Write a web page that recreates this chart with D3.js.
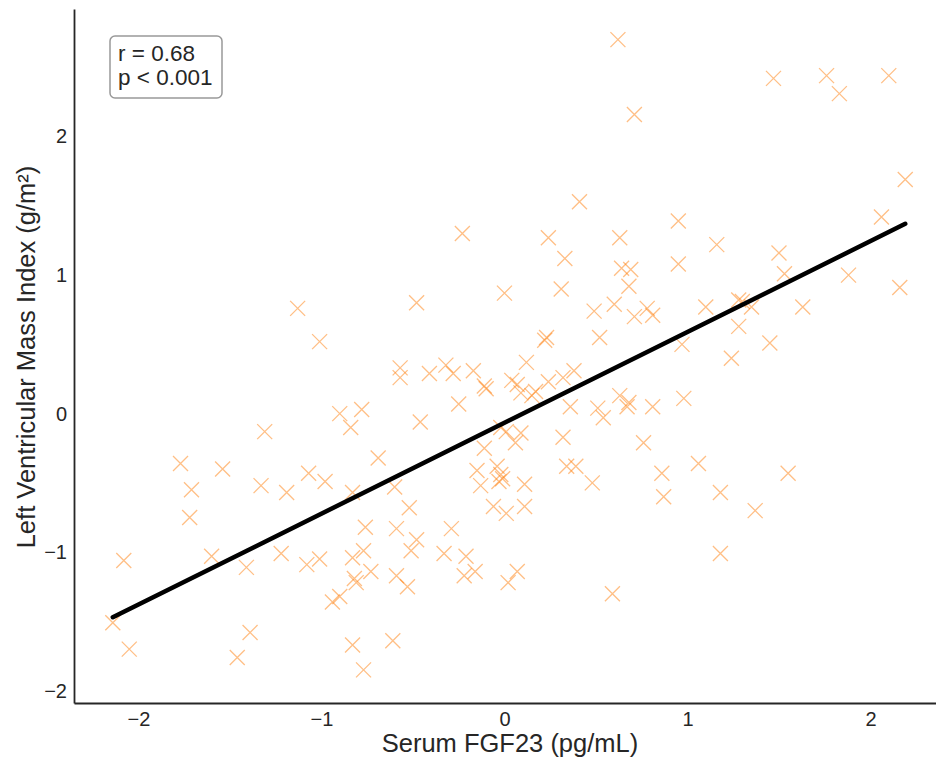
<!DOCTYPE HTML>
<html>
<head>
<meta charset="utf-8">
<script src="https://d3js.org/d3.v7.min.js"></script>
<style>
  body { margin: 0; background: white; }
  text { font-family: "Liberation Sans", Arial, sans-serif; }
</style>
</head>
<body>
<svg id="svgMain" width="936" height="764"></svg>

<script>
// serum FGF23 (x) vs LV mass index (y)
const fgf23 = [
  0.62, 0.71, 1.47, 1.76, 1.83, 2.10, 2.19, 0.41, 2.06, 0.95,
  -0.23, 0.24, 0.63, 1.16, 1.50, 0.33, 0.95, 0.64, 0.69, 1.53,
  1.88, 0.68, 0.31, 2.16, 0.00, -0.48, -1.13, 0.60, 0.49, 0.78,
  0.81, 0.71, 1.10, 1.28, 1.30, 1.35, 1.63, 1.28, -1.01, 0.23,
  0.22, 0.52, 0.97, 1.45, 1.24, 0.12, -0.57, -0.57, -0.41, -0.32,
  -0.28, -0.17, -0.11, -0.10, 0.04, 0.07, 0.09, 0.17, 0.15, 0.24,
  0.32, 0.38, -0.25, 0.36, 0.51, 0.54, 0.63, 0.68, 0.67, 0.81,
  0.98, -0.90, -0.78, -0.84, -1.31, -0.46, -0.69, -0.02, 0.01, 0.09,
  0.06, -0.11, 0.32, 0.76, -0.04, -0.02, -0.01, -0.03, -0.15, 0.34,
  0.39, 0.48, 0.86, 1.06, 1.55, 0.87, 1.18, 1.37, 1.18, 0.59,
  -1.77, -1.54, -1.07, -1.71, -1.72, -1.33, -1.19, -0.98, -0.83, -2.08,
  -1.60, -1.41, -1.22, -1.08, -1.01, -0.83, -0.77, -0.82, -0.81, -0.73,
  -0.94, -0.90, -2.14, -2.05, -1.39, -1.46, -0.83, -0.77, -0.76, -0.60,
  -0.52, -0.59, -0.48, -0.51, -0.59, -0.53, -0.29, -0.33, -0.21, -0.22,
  -0.16, 0.02, 0.07, -0.13, 0.11, -0.06, 0.01, 0.11, -0.61
];
const lvmi = [
  2.70, 2.16, 2.42, 2.44, 2.31, 2.44, 1.69, 1.53, 1.42, 1.39,
  1.30, 1.27, 1.27, 1.22, 1.16, 1.12, 1.08, 1.05, 1.04, 1.01,
  1.00, 0.92, 0.90, 0.91, 0.87, 0.80, 0.76, 0.79, 0.74, 0.76,
  0.71, 0.70, 0.77, 0.82, 0.81, 0.77, 0.77, 0.63, 0.52, 0.55,
  0.53, 0.55, 0.50, 0.51, 0.40, 0.37, 0.33, 0.26, 0.29, 0.35,
  0.29, 0.31, 0.20, 0.18, 0.24, 0.21, 0.15, 0.16, 0.13, 0.23,
  0.26, 0.31, 0.07, 0.05, 0.04, -0.03, 0.13, 0.08, 0.05, 0.05,
  0.11, 0.00, 0.03, -0.10, -0.13, -0.06, -0.32, -0.10, -0.13, -0.14,
  -0.21, -0.25, -0.17, -0.21, -0.38, -0.44, -0.47, -0.49, -0.41, -0.38,
  -0.38, -0.50, -0.43, -0.36, -0.43, -0.60, -0.57, -0.70, -1.01, -1.30,
  -0.36, -0.40, -0.43, -0.55, -0.75, -0.52, -0.57, -0.49, -0.57, -1.06,
  -1.03, -1.11, -1.01, -1.09, -1.05, -1.04, -0.99, -1.19, -1.22, -1.14,
  -1.36, -1.32, -1.51, -1.70, -1.58, -1.76, -1.67, -1.85, -0.82, -0.53,
  -0.68, -0.83, -0.91, -0.99, -1.17, -1.25, -0.83, -1.01, -1.03, -1.17,
  -1.14, -1.22, -1.14, -0.52, -0.51, -0.67, -0.72, -0.67, -1.64
];

// fitted line end points
const fitX = [-2.14, 2.19];
const fitY = [-1.47, 1.37];

const xTicks = [-2, -1, 0, 1, 2];
const yTicks = [-2, -1, 0, 1, 2];
const statLines = ["r = 0.68", "p < 0.001"];

const points = fgf23.map((v, i) => ({x: v, y: lvmi[i]}));

const svg = d3.select("#svgMain");

var xs = d3.scaleLinear().domain([-2.352, 2.358]).range([74, 936]);
var ys = d3.scaleLinear().domain([-2.089, 2.921]).range([703, 9]);

// axes (seaborn white style: no tick marks)
const xAxis = d3.axisBottom(xs).tickValues(xTicks).tickFormat(d3.format("d")).tickSize(0).tickPadding(9);
const yAxis = d3.axisLeft(ys).tickValues(yTicks).tickFormat(d3.format("d")).tickSize(0).tickPadding(7);

const gx = svg.append("g").attr("transform", "translate(0,703)").call(xAxis);
const gy = svg.append("g").attr("transform", "translate(74,0)").call(yAxis);

[gx, gy].forEach(g => {
  g.select(".domain").attr("stroke", "#262626").attr("stroke-width", 1.8);
  g.selectAll(".tick text")
    .attr("fill", "#262626")
    .style("font-size", "20px")
    .style("font-family", "'Liberation Sans', Arial, sans-serif");
});

// scatter, drawn as x markers
svg.append("g").selectAll("path")
  .data(points)
  .enter()
  .append("path")
  .attr("transform", d => "translate(" + xs(d.x) + "," + ys(d.y) + ")")
  .attr("d", "M-7.5,-7.5L7.5,7.5M-7.5,7.5L7.5,-7.5")
  .attr("fill", "none")
  .attr("stroke", "#ff7f0e")
  .attr("stroke-opacity", 0.5)
  .attr("stroke-width", 1.3);

// regression line
svg.append("line")
  .attr("x1", xs(fitX[0])).attr("y1", ys(fitY[0]))
  .attr("x2", xs(fitX[1])).attr("y2", ys(fitY[1]))
  .attr("stroke", "black")
  .attr("stroke-width", 4.5)
  .attr("stroke-linecap", "round");

// stats box
const box = svg.append("g");
box.append("rect")
  .attr("x", 110).attr("y", 36)
  .attr("width", 112).attr("height", 62)
  .attr("rx", 5)
  .attr("fill", "white")
  .attr("stroke", "#999")
  .attr("stroke-width", 1.5);
box.selectAll("text")
  .data(statLines)
  .enter()
  .append("text")
  .attr("x", 118)
  .attr("y", (d, i) => 61 + i * 24)
  .attr("fill", "#262626")
  .style("font-size", "22.5px")
  .text(d => d);

// axis labels
svg.append("text")
  .attr("x", 510)
  .attr("y", 752)
  .attr("text-anchor", "middle")
  .attr("fill", "#262626")
  .style("font-size", "25.5px")
  .text("Serum FGF23 (pg/mL)");

svg.append("text")
  .attr("transform", "translate(35,357) rotate(-90)")
  .attr("text-anchor", "middle")
  .attr("fill", "#262626")
  .style("font-size", "25.5px")
  .text("Left Ventricular Mass Index (g/m²)");
</script>
</body>
</html>
